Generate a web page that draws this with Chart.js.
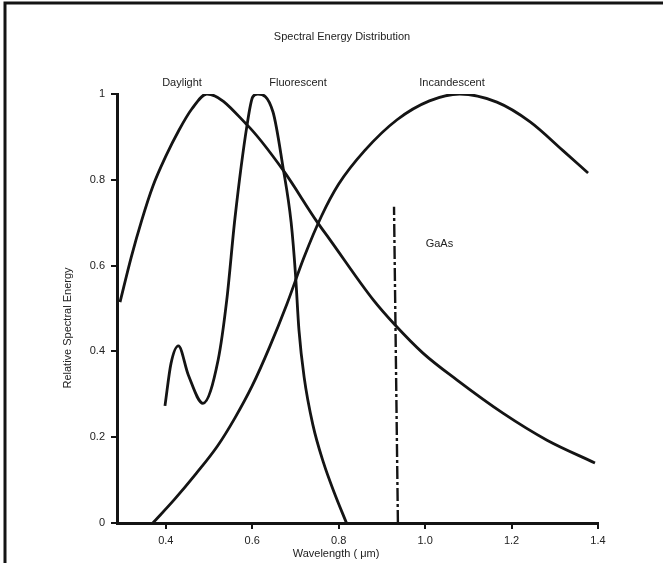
<!DOCTYPE html>
<html>
<head>
<meta charset="utf-8">
<script src="https://cdn.jsdelivr.net/npm/chart.js@4.4.0/dist/chart.umd.min.js"></script>
<style>
    html, body { margin: 0; padding: 0; background: #fff; }
    #wrap { width: 663px; height: 563px; position: relative; }
</style>
</head>
<body>
<div id="wrap"><canvas id="chart" width="663" height="563"></canvas></div>
<script>
// tick values
var xTicks = [0.4, 0.6, 0.8, 1.0, 1.2, 1.4];
var yTicks = [0, 0.2, 0.4, 0.6, 0.8, 1];

// Daylight
var daylightWl = [0.294, 0.320, 0.344, 0.370, 0.400, 0.430, 0.460, 0.495, 0.588, 0.671, 0.750, 0.780, 0.880, 0.930, 0.995, 1.074, 1.180, 1.282, 1.393];
var daylightEnergy = [0.515, 0.620, 0.705, 0.785, 0.855, 0.915, 0.965, 1.0, 0.928, 0.823, 0.702, 0.660, 0.520, 0.462, 0.396, 0.333, 0.256, 0.193, 0.140];

// Fluorescent
var fluorWl = [0.398, 0.412, 0.429, 0.452, 0.486, 0.521, 0.541, 0.560, 0.588, 0.601, 0.613, 0.648, 0.671, 0.690, 0.700, 0.708, 0.720, 0.740, 0.765, 0.790, 0.818];
var fluorEnergy = [0.273, 0.372, 0.413, 0.345, 0.279, 0.380, 0.520, 0.711, 0.928, 0.993, 1.0, 0.958, 0.830, 0.700, 0.580, 0.450, 0.340, 0.230, 0.140, 0.070, 0];

// Incandescent
var incandWl = [0.370, 0.420, 0.470, 0.520, 0.560, 0.600, 0.640, 0.680, 0.720, 0.760, 0.800, 0.860, 0.935, 1.010, 1.080, 1.166, 1.243, 1.319, 1.377];
var incandEnergy = [0, 0.055, 0.115, 0.180, 0.245, 0.320, 0.410, 0.510, 0.620, 0.715, 0.790, 0.868, 0.940, 0.984, 1.0, 0.981, 0.935, 0.868, 0.816];

// GaAs emission line
var gaasWl = [0.937, 0.928];
var gaasEnergy = [0, 0.737];

var INK = '#141414';
var FONT = '"Liberation Sans", Arial, Helvetica, sans-serif';

function toPoints(xs, ys) {
    return xs.map(function (x, i) { return { x: x, y: ys[i] }; });
}

function curve(label, xs, ys) {
    return {
        label: label,
        data: toPoints(xs, ys),
        borderColor: INK,
        borderWidth: 2.8,
        pointRadius: 0,
        fill: false,
        cubicInterpolationMode: 'monotone'
    };
}

var gaasSet = curve('GaAs', gaasWl, gaasEnergy);
gaasSet.borderWidth = 2.4;
gaasSet.borderDash = [13, 3, 3, 3];
gaasSet.cubicInterpolationMode = 'default';

var labelsPlugin = {
    id: 'labels',
    afterDraw: function (chart) {
        var ctx = chart.ctx;
        var xs = chart.scales.x;
        var ys = chart.scales.y;
        ctx.save();

        // scan frame
        ctx.strokeStyle = INK;
        ctx.lineWidth = 3;
        ctx.beginPath();
        ctx.moveTo(5, 563);
        ctx.lineTo(5, 3);
        ctx.lineTo(663, 3);
        ctx.stroke();

        ctx.fillStyle = '#222';
        ctx.textAlign = 'center';
        ctx.textBaseline = 'middle';
        ctx.font = '11px ' + FONT;
        ctx.fillText('Spectral Energy Distribution', 342, 37);
        ctx.fillText('Daylight', 182, 83);
        ctx.fillText('Fluorescent', 298, 83);
        ctx.fillText('Incandescent', 452, 83);
        ctx.fillText('GaAs', xs.getPixelForValue(1.033), ys.getPixelForValue(0.65));
        ctx.fillText('Wavelength ( \u03bcm)', 336, 554);

        ctx.translate(68, 328);
        ctx.rotate(-Math.PI / 2);
        ctx.fillText('Relative Spectral Energy', 0, 0);
        ctx.restore();
    }
};

new Chart(document.getElementById('chart').getContext('2d'), {
    type: 'line',
    data: {
        datasets: [
            curve('Daylight', daylightWl, daylightEnergy),
            curve('Fluorescent', fluorWl, fluorEnergy),
            curve('Incandescent', incandWl, incandEnergy),
            gaasSet
        ]
    },
    options: {
        responsive: false,
        animation: false,
        layout: {
            padding: { left: 0, top: 94, right: 65, bottom: 0 }
        },
        plugins: {
            legend: { display: false },
            title: { display: false },
            tooltip: { enabled: false }
        },
        scales: {
            x: {
                type: 'linear',
                min: 0.287,
                max: 1.4,
                afterBuildTicks: function (scale) {
                    scale.ticks = xTicks.map(function (v) { return { value: v }; });
                },
                afterFit: function (scale) { scale.height = 40; },
                border: { display: true, color: INK, width: 3 },
                grid: { drawOnChartArea: false, drawTicks: true, tickLength: 6, color: INK, lineWidth: 2 },
                ticks: {
                    color: '#222',
                    padding: 5,
                    maxRotation: 0,
                    font: { family: FONT, size: 11 },
                    callback: function (v) { return Number(v).toFixed(1); }
                }
            },
            y: {
                min: 0,
                max: 1,
                afterBuildTicks: function (scale) {
                    scale.ticks = yTicks.map(function (v) { return { value: v }; });
                },
                afterFit: function (scale) { scale.width = 117; },
                border: { display: true, color: INK, width: 3 },
                grid: { drawOnChartArea: false, drawTicks: true, tickLength: 6, color: INK, lineWidth: 2 },
                ticks: {
                    color: '#222',
                    padding: 6,
                    font: { family: FONT, size: 11 },
                    callback: function (v) {
                        if (v === 0 || v === 1) { return String(v); }
                        return Number(v).toFixed(1);
                    }
                }
            }
        }
    },
    plugins: [labelsPlugin]
});
</script>
</body>
</html>
